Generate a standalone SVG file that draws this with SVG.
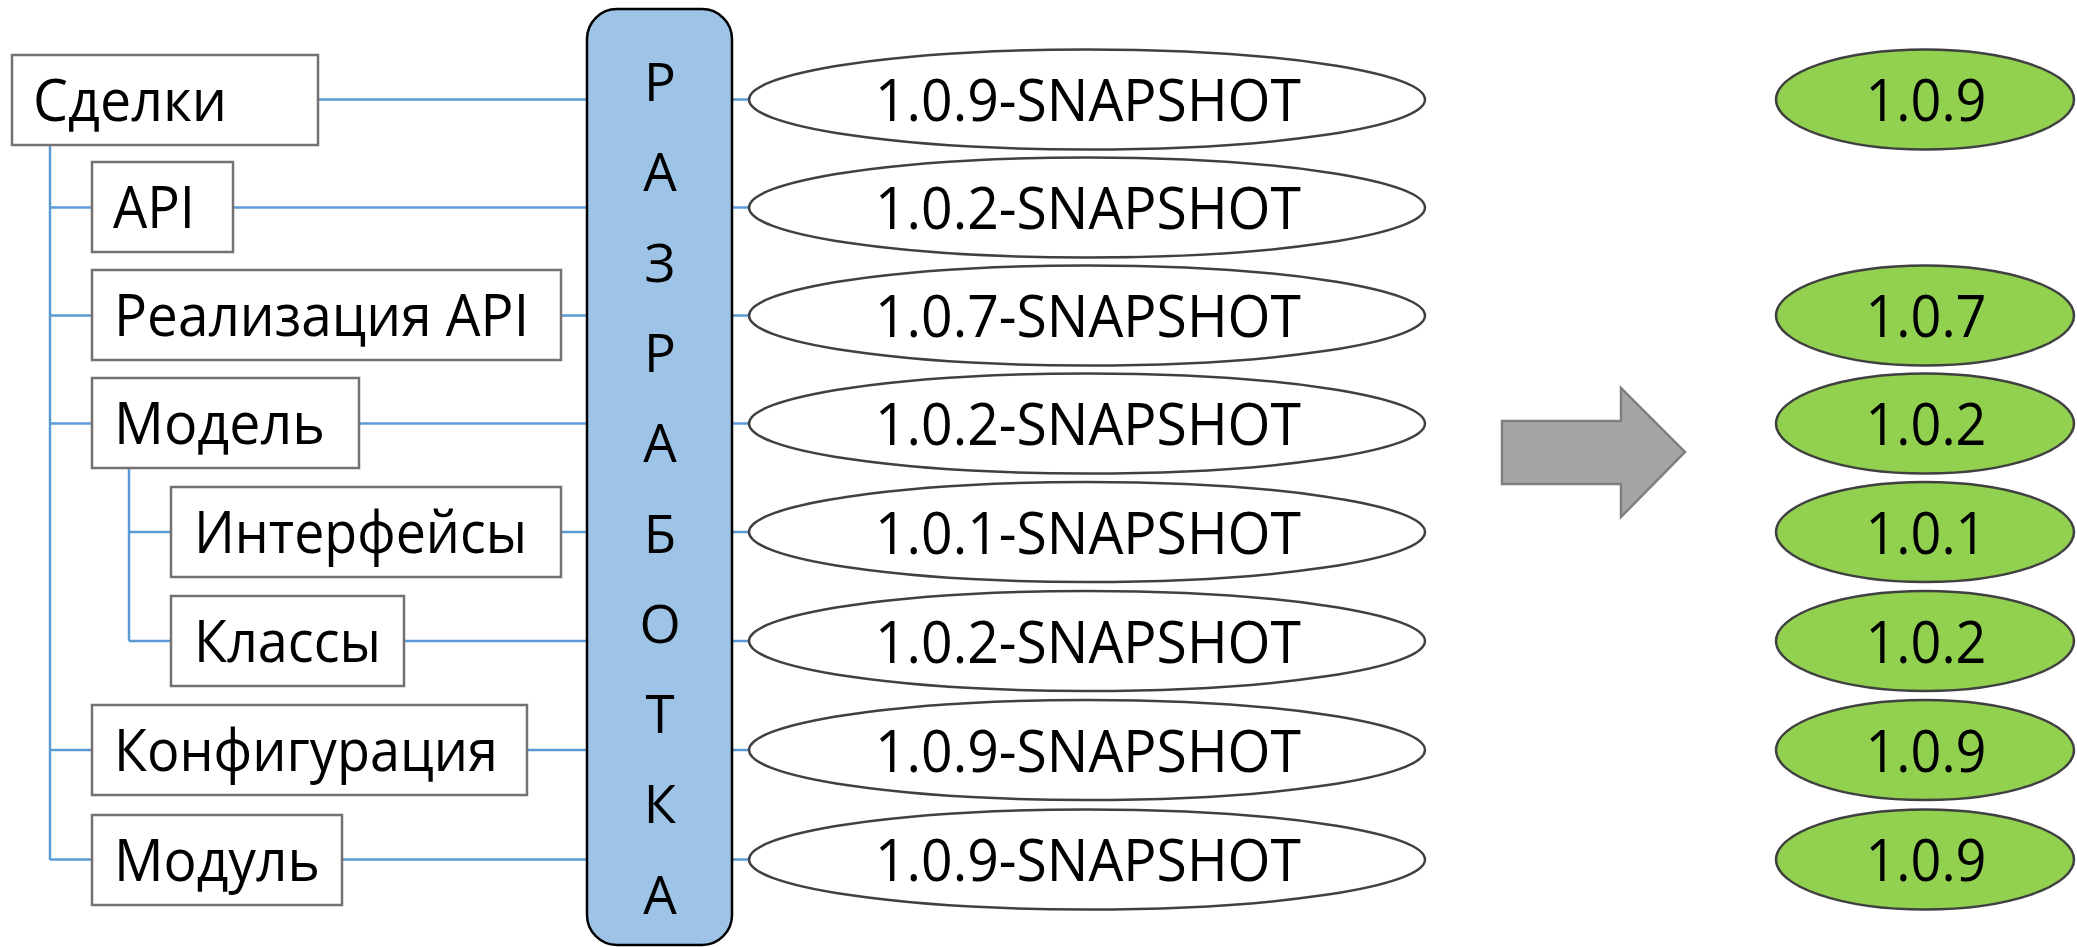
<svg xmlns="http://www.w3.org/2000/svg" width="2077" height="947" viewBox="0 0 2077 947">
<style>
.box{fill:#fff;stroke:#767171;stroke-width:2.5}
.ln{fill:none;stroke:#5B9BD5;stroke-width:2.5}
.snap{fill:#fff;stroke:#404040;stroke-width:2.5}
.rel{fill:#92D050;stroke:#404040;stroke-width:2.5}
.t{font-family:"Open Sans","Liberation Sans",sans-serif;font-size:58px;fill:#000}
.c{text-anchor:middle}
.lt{font-family:"Open Sans","Liberation Sans",sans-serif;font-size:53px;fill:#000;text-anchor:middle}
</style>
<rect width="2077" height="947" fill="#fff"/>
<g id="connectors">
<path class="ln" d="M50,145 V860 M50,207.5 H92 M50,315.5 H92 M50,423.5 H92 M50,750 H92 M50,859.5 H92"/>
<path class="ln" d="M129,468 V641 M129,532 H171 M129,641 H171"/>
<path class="ln" d="M318,99.5 H587 M233,207.5 H587 M561,315.5 H587 M359,423.5 H587 M561,532 H587 M404,641 H587 M527,750 H587 M342,859.5 H587"/>
<path class="ln" d="M732,99.5 H750 M732,207.5 H750 M732,315.5 H750 M732,423.5 H750 M732,532 H750 M732,641 H750 M732,750 H750 M732,859.5 H750"/>
</g>
<g id="n-sdelki"><rect class="box" x="12" y="55" width="306" height="90"/><text class="t" x="33" y="121" textLength="194" lengthAdjust="spacingAndGlyphs">Сделки</text></g>
<g id="n-api"><rect class="box" x="92" y="162" width="141" height="90"/><text class="t" x="113" y="228" textLength="82" lengthAdjust="spacingAndGlyphs">API</text></g>
<g id="n-impl"><rect class="box" x="92" y="270" width="469" height="90"/><text class="t" x="114" y="336" textLength="415" lengthAdjust="spacingAndGlyphs">Реализация API</text></g>
<g id="n-model"><rect class="box" x="92" y="378" width="267" height="90"/><text class="t" x="114" y="444" textLength="211" lengthAdjust="spacingAndGlyphs">Модель</text></g>
<g id="n-iface"><rect class="box" x="171" y="487" width="390" height="90"/><text class="t" x="194" y="553" textLength="333" lengthAdjust="spacingAndGlyphs">Интерфейсы</text></g>
<g id="n-classes"><rect class="box" x="171" y="596" width="233" height="90"/><text class="t" x="194" y="662" textLength="187" lengthAdjust="spacingAndGlyphs">Классы</text></g>
<g id="n-config"><rect class="box" x="92" y="705" width="435" height="90"/><text class="t" x="114" y="771" textLength="384" lengthAdjust="spacingAndGlyphs">Конфигурация</text></g>
<g id="n-module"><rect class="box" x="92" y="815" width="250" height="90"/><text class="t" x="114" y="881" textLength="206" lengthAdjust="spacingAndGlyphs">Модуль</text></g>
<g id="n-dev">
<rect x="587" y="9" width="145" height="936" rx="30" ry="30" fill="#9DC3E6" stroke="#000" stroke-width="2.5"/>
<text class="lt" x="660" y="101">Р</text>
<text class="lt" x="660" y="191">А</text>
<text class="lt" x="660" y="282">З</text>
<text class="lt" x="660" y="372">Р</text>
<text class="lt" x="660" y="462">А</text>
<text class="lt" x="660" y="553">Б</text>
<text class="lt" x="660" y="643">О</text>
<text class="lt" x="660" y="733">Т</text>
<text class="lt" x="660" y="823">К</text>
<text class="lt" x="660" y="914">А</text>
</g>
<g id="s1"><ellipse class="snap" cx="1087" cy="99.5" rx="338" ry="50"/><text class="t c" x="1088" y="121" textLength="426" lengthAdjust="spacingAndGlyphs">1.0.9-SNAPSHOT</text></g>
<g id="s2"><ellipse class="snap" cx="1087" cy="207.5" rx="338" ry="50"/><text class="t c" x="1088" y="229" textLength="426" lengthAdjust="spacingAndGlyphs">1.0.2-SNAPSHOT</text></g>
<g id="s3"><ellipse class="snap" cx="1087" cy="315.5" rx="338" ry="50"/><text class="t c" x="1088" y="337" textLength="426" lengthAdjust="spacingAndGlyphs">1.0.7-SNAPSHOT</text></g>
<g id="s4"><ellipse class="snap" cx="1087" cy="423.5" rx="338" ry="50"/><text class="t c" x="1088" y="445" textLength="426" lengthAdjust="spacingAndGlyphs">1.0.2-SNAPSHOT</text></g>
<g id="s5"><ellipse class="snap" cx="1087" cy="532" rx="338" ry="50"/><text class="t c" x="1088" y="553.5" textLength="426" lengthAdjust="spacingAndGlyphs">1.0.1-SNAPSHOT</text></g>
<g id="s6"><ellipse class="snap" cx="1087" cy="641" rx="338" ry="50"/><text class="t c" x="1088" y="662.5" textLength="426" lengthAdjust="spacingAndGlyphs">1.0.2-SNAPSHOT</text></g>
<g id="s7"><ellipse class="snap" cx="1087" cy="750" rx="338" ry="50"/><text class="t c" x="1088" y="771.5" textLength="426" lengthAdjust="spacingAndGlyphs">1.0.9-SNAPSHOT</text></g>
<g id="s8"><ellipse class="snap" cx="1087" cy="859.5" rx="338" ry="50"/><text class="t c" x="1088" y="881" textLength="426" lengthAdjust="spacingAndGlyphs">1.0.9-SNAPSHOT</text></g>
<g id="arrow"><polygon points="1502,421 1621,421 1621,388 1685,452 1621,517 1621,484 1502,484" fill="#A5A5A5" stroke="#7F7F7F" stroke-width="2.5"/></g>
<g id="r1"><ellipse class="rel" cx="1925" cy="99.5" rx="149" ry="50"/><text class="t c" x="1926" y="121" textLength="121" lengthAdjust="spacingAndGlyphs">1.0.9</text></g>
<g id="r3"><ellipse class="rel" cx="1925" cy="315.5" rx="149" ry="50"/><text class="t c" x="1926" y="337" textLength="121" lengthAdjust="spacingAndGlyphs">1.0.7</text></g>
<g id="r4"><ellipse class="rel" cx="1925" cy="423.5" rx="149" ry="50"/><text class="t c" x="1926" y="445" textLength="121" lengthAdjust="spacingAndGlyphs">1.0.2</text></g>
<g id="r5"><ellipse class="rel" cx="1925" cy="532" rx="149" ry="50"/><text class="t c" x="1926" y="553.5" textLength="121" lengthAdjust="spacingAndGlyphs">1.0.1</text></g>
<g id="r6"><ellipse class="rel" cx="1925" cy="641" rx="149" ry="50"/><text class="t c" x="1926" y="662.5" textLength="121" lengthAdjust="spacingAndGlyphs">1.0.2</text></g>
<g id="r7"><ellipse class="rel" cx="1925" cy="750" rx="149" ry="50"/><text class="t c" x="1926" y="771.5" textLength="121" lengthAdjust="spacingAndGlyphs">1.0.9</text></g>
<g id="r8"><ellipse class="rel" cx="1925" cy="859.5" rx="149" ry="50"/><text class="t c" x="1926" y="881" textLength="121" lengthAdjust="spacingAndGlyphs">1.0.9</text></g>
</svg>
